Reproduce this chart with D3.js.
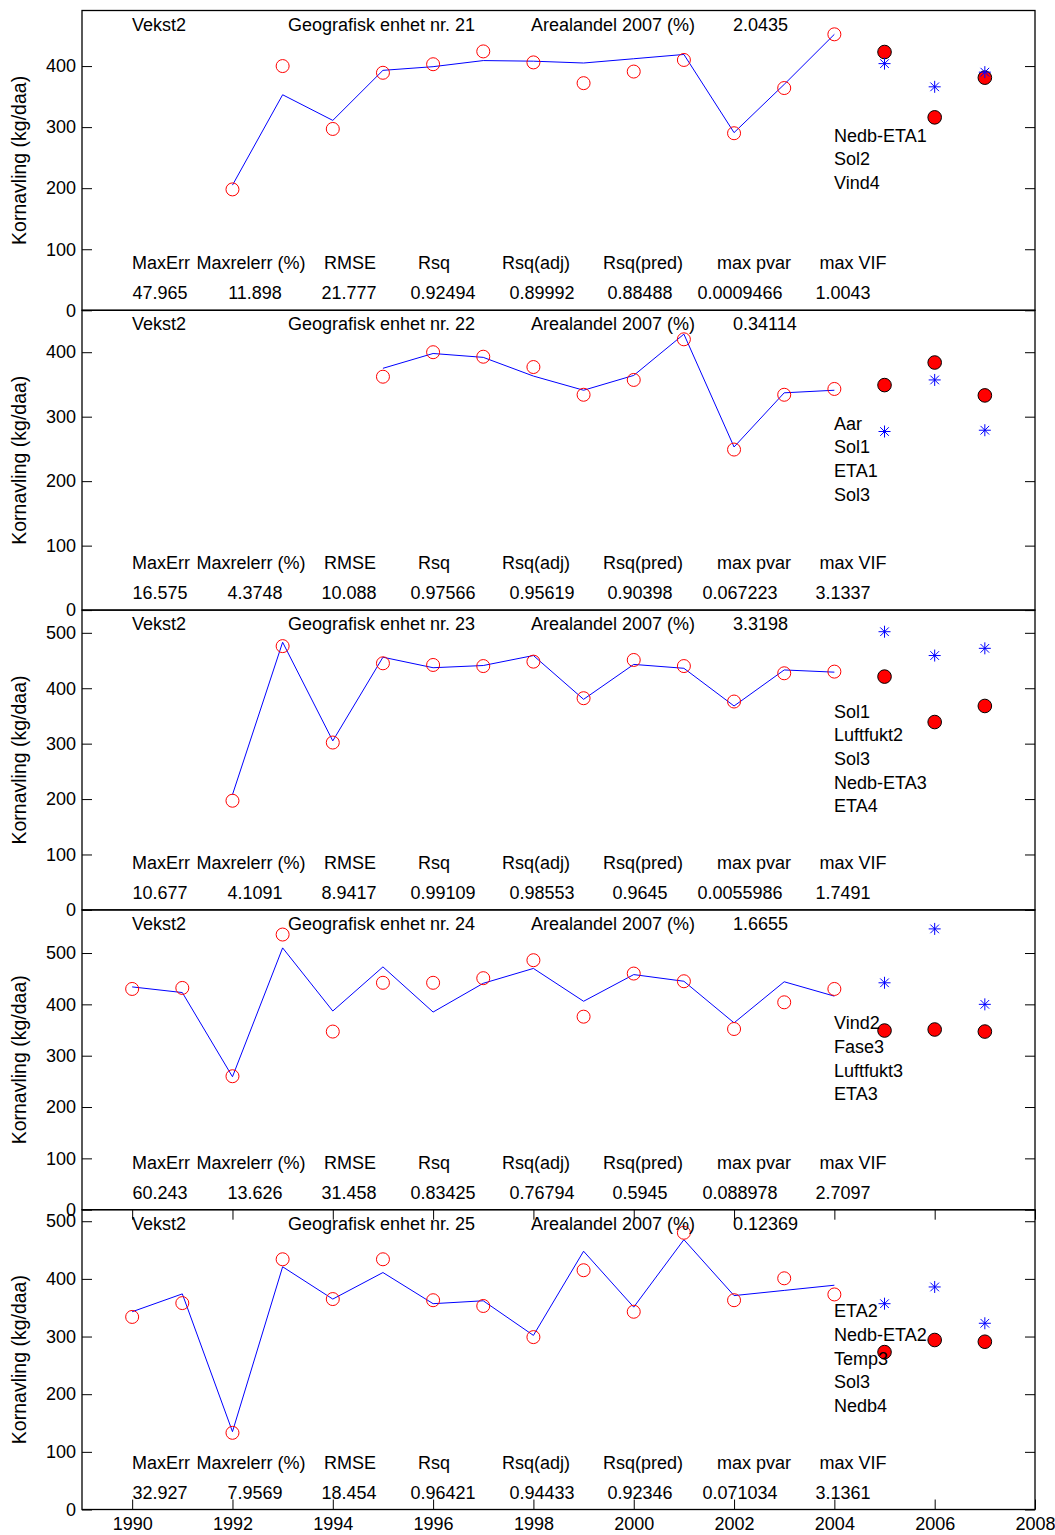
<!DOCTYPE html>
<html>
<head>
<meta charset="utf-8">
<script src="https://cdn.jsdelivr.net/npm/d3@7"></script>
<style>
  body { margin: 0; background: #fff; }
  svg text { font-family: "Liberation Sans", Arial, sans-serif; fill: #000; }
</style>
</head>
<body>
<svg id="chart"></svg>
<script>
// ---- data ----
const years = [1990, 1991, 1992, 1993, 1994, 1995, 1996, 1997, 1998, 1999, 2000, 2001, 2002, 2003, 2004]
const predYears = [2005, 2006, 2007]
const regions = [21, 22, 23, 24, 25]
const areaShare = ['2.0435', '0.34114', '3.3198', '1.6655', '0.12369']

// observed yield (red open circles), null = no data
const observed = [
    [null, null, 198, 400, 297, 389, 403, 424, 406, 372, 391, 410, 290, 364, 452],
    [null, null, null, null, null, 362, 400, 393, 377, 334, 357, 420, 249, 334, 343],
    [null, null, 197, 476, 302, 445, 442, 440, 448, 382, 451, 440, 376, 427, 430],
    [430, 432, 260, 536, 347, 442, 442, 451, 486, 376, 460, 445, 352, 404, 430],
    [334, 358, 133, 434, 365, 434, 363, 353, 299, 415, 343, 480, 363, 401, 373]
]
// model fit (blue line)
const fitted = [
    [null, null, 205, 353, 311, 393, 399, 409, 408, 405, 412, 419, 291, 370, 452],
    [null, null, null, null, null, 375, 398, 392, 363, 341, 364, 428, 253, 337, 341],
    [null, null, 208, 483, 305, 456, 437, 441, 459, 380, 443, 436, 368, 433, 429],
    [434, 423, 259, 510, 387, 473, 385, 441, 470, 406, 458, 445, 364, 444, 416],
    [343, 374, 135, 421, 365, 411, 357, 362, 302, 448, 351, 468, 371, 380, 389]
]
// 2005-2007: actual (filled red) and predicted (blue stars)
const predActual = [
    [423, 316, 381],
    [349, 384, 333],
    [421, 339, 368],
    [349, 351, 347],
    [273, 294, 291]
]
const predModel = [
    [404, 366, 390],
    [277, 357, 279],
    [502, 459, 472],
    [442, 547, 400],
    [357, 386, 323]
]
const variables = [
    ['Nedb-ETA1', 'Sol2', 'Vind4'],
    ['Aar', 'Sol1', 'ETA1', 'Sol3'],
    ['Sol1', 'Luftfukt2', 'Sol3', 'Nedb-ETA3', 'ETA4'],
    ['Vind2', 'Fase3', 'Luftfukt3', 'ETA3'],
    ['ETA2', 'Nedb-ETA2', 'Temp3', 'Sol3', 'Nedb4']
]
const statNames = ['MaxErr', 'Maxrelerr (%)', 'RMSE', 'Rsq', 'Rsq(adj)', 'Rsq(pred)', 'max pvar', 'max VIF']
const statValues = [
    ['47.965', '11.898', '21.777', '0.92494', '0.89992', '0.88488', '0.0009466', '1.0043'],
    ['16.575', '4.3748', '10.088', '0.97566', '0.95619', '0.90398', '0.067223', '3.1337'],
    ['10.677', '4.1091', '8.9417', '0.99109', '0.98553', '0.9645', '0.0055986', '1.7491'],
    ['60.243', '13.626', '31.458', '0.83425', '0.76794', '0.5945', '0.088978', '2.7097'],
    ['32.927', '7.9569', '18.454', '0.96421', '0.94433', '0.92346', '0.071034', '3.1361']
]
const yMax = [491, 465, 541, 584, 520]
const yTicks = [
    [0, 100, 200, 300, 400],
    [0, 100, 200, 300, 400],
    [0, 100, 200, 300, 400, 500],
    [0, 100, 200, 300, 400, 500],
    [0, 100, 200, 300, 400, 500]
]
const xTicks = [1990, 1992, 1994, 1996, 1998, 2000, 2002, 2004, 2006, 2008]

// ---- layout ----
const width = 1055
const height = 1535
const left = 82
const right = 1035
const top0 = 10.5
const panelH = 299.8
const fontSize = 18

const svg = d3.select('#chart')
    .attr('width', width)
    .attr('height', height)
    .attr('viewBox', `0 0 ${width} ${height}`)

svg.append('rect').attr('width', width).attr('height', height).attr('fill', '#fff')

const x = d3.scaleLinear().domain([1989, 2008]).range([left, right])

// text columns (pixels)
const statHeadX = [161, 251, 350, 434, 536, 643, 754, 853]
const statValX = [160, 255, 349, 443, 542, 640, 740, 843]

regions.forEach((reg, i) => {
    const top = top0 + i * panelH
    const bottom = top + panelH
    const y = d3.scaleLinear().domain([0, yMax[i]]).range([bottom, top])
    const g = svg.append('g')

    // left axis, ticks inward
    const ax = g.append('g')
        .attr('transform', `translate(${left},0)`)
        .call(d3.axisLeft(y).tickValues(yTicks[i]).tickSize(-10).tickPadding(6).tickFormat(d3.format('d')))
    ax.select('.domain').remove()
    ax.selectAll('line').attr('stroke', '#000')
    ax.selectAll('text').style('font-size', fontSize + 'px').attr('fill', '#000')

    const axR = g.append('g')
        .attr('transform', `translate(${right},0)`)
        .call(d3.axisRight(y).tickValues(yTicks[i]).tickSize(-10).tickFormat(''))
    axR.select('.domain').remove()
    axR.selectAll('line').attr('stroke', '#000')

    if (i === regions.length - 1) {
        const axB = g.append('g')
            .attr('transform', `translate(0,${bottom})`)
            .call(d3.axisBottom(x).tickValues(xTicks).tickSize(-10).tickPadding(8).tickFormat(d3.format('d')))
        axB.select('.domain').remove()
        axB.selectAll('line').attr('stroke', '#000')
        axB.selectAll('text').style('font-size', fontSize + 'px').attr('fill', '#000')

        const axT = g.append('g')
            .attr('transform', `translate(0,${top})`)
            .call(d3.axisTop(x).tickValues(xTicks).tickSize(-10).tickFormat(''))
        axT.select('.domain').remove()
        axT.selectAll('line').attr('stroke', '#000')
    }

    // box
    g.append('rect')
        .attr('x', left).attr('y', top)
        .attr('width', right - left).attr('height', panelH)
        .attr('fill', 'none').attr('stroke', '#000').attr('stroke-width', 1.3)

    // y label
    g.append('text')
        .attr('transform', `translate(26,${(top + bottom) / 2}) rotate(-90)`)
        .attr('text-anchor', 'middle')
        .style('font-size', '19.5px')
        .text('Kornavling (kg/daa)')

    // fitted line
    const line = d3.line()
        .defined(d => d[1] !== null)
        .x(d => x(d[0]))
        .y(d => y(d[1]))
    g.append('path')
        .datum(years.map((yr, k) => [yr, fitted[i][k]]))
        .attr('d', line)
        .attr('fill', 'none')
        .attr('stroke', '#0000ff')
        .attr('stroke-width', 1)

    // observed open circles
    g.selectAll('.obs')
        .data(years.map((yr, k) => [yr, observed[i][k]]).filter(d => d[1] !== null))
        .enter().append('circle')
        .attr('cx', d => x(d[0]))
        .attr('cy', d => y(d[1]))
        .attr('r', 6.5)
        .attr('fill', 'none')
        .attr('stroke', '#ff0000')
        .attr('stroke-width', 1)

    // actual values in prediction years
    g.selectAll('.act')
        .data(predYears.map((yr, k) => [yr, predActual[i][k]]))
        .enter().append('circle')
        .attr('cx', d => x(d[0]))
        .attr('cy', d => y(d[1]))
        .attr('r', 6.8)
        .attr('fill', '#ff0000')
        .attr('stroke', '#000')
        .attr('stroke-width', 1)

    // predicted stars
    const s = 6
    const star = g.selectAll('.star')
        .data(predYears.map((yr, k) => [yr, predModel[i][k]]))
        .enter().append('path')
        .attr('d', d => {
            const cx = x(d[0]), cy = y(d[1]), q = s * 0.72
            return `M${cx - s},${cy}H${cx + s}M${cx},${cy - s}V${cy + s}` +
                `M${cx - q},${cy - q}L${cx + q},${cy + q}M${cx - q},${cy + q}L${cx + q},${cy - q}`
        })
        .attr('stroke', '#0000ff')
        .attr('stroke-width', 1)
        .attr('fill', 'none')

    // header texts
    const hy = top + 20
    const txt = (tx, ty, s, anchor) => g.append('text')
        .attr('x', tx).attr('y', ty)
        .attr('text-anchor', anchor || 'start')
        .style('font-size', fontSize + 'px')
        .text(s)
    txt(132, hy, 'Vekst2')
    txt(288, hy, 'Geografisk enhet nr. ' + reg)
    txt(531, hy, 'Arealandel 2007 (%)')
    txt(733, hy, areaShare[i])

    // variable list, centred in the panel
    const n = variables[i].length
    variables[i].forEach((v, k) => {
        txt(834, (top + bottom) / 2 + 5 + (k - (n - 1) / 2) * 23.7, v)
    })

    // statistics
    statNames.forEach((s, k) => txt(statHeadX[k], bottom - 41, s, 'middle'))
    statValues[i].forEach((s, k) => txt(statValX[k], bottom - 11, s, 'middle'))
})
</script>
</body>
</html>
